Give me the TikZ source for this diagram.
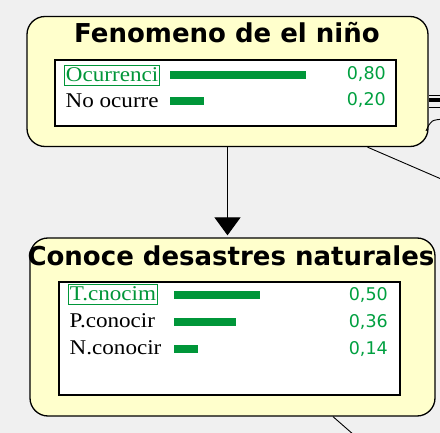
\documentclass[tikz,border=0pt]{standalone}
\usepackage{fontspec}
\usepackage{tikz}
\usetikzlibrary{arrows.meta, positioning, calc}
\newfontfamily\titlefont{DejaVu Sans}
\newfontfamily\statefont{Liberation Serif}[FakeStretch=1.1]
\newfontfamily\valfont{DejaVu Sans}
\definecolor{bggray}{RGB}{240,240,240}
\definecolor{nodeyel}{RGB}{255,255,204}
\definecolor{bargreen}{RGB}{0,150,57}
\definecolor{valgreen}{RGB}{0,160,64}
\tikzset{
  netbox/.style={draw=black, fill=nodeyel, rounded corners=18pt,
                 line width=1.3pt, inner sep=0pt},
  statebox/.style={draw=black, fill=white, line width=1.3pt, inner sep=0pt},
  titletext/.style={inner sep=0pt, anchor=base,
                    font=\titlefont\bfseries\fontsize{26}{28}\selectfont},
  statetext/.style={inner xsep=1.5pt, inner ysep=3pt, anchor=base west,
                    font=\statefont\fontsize{21}{23}\selectfont},
  selstate/.style={statetext, text=bargreen, draw=bargreen, line width=0.9pt},
  valtext/.style={inner sep=0pt, anchor=base east, text=valgreen,
                  font=\valfont\fontsize{17.5}{19}\selectfont},
  bar/.style={fill=bargreen},
  link/.style={draw=black, line width=1.3pt},
  arc/.style={draw=black, line width=0.9pt},
}
\begin{document}
\begin{tikzpicture}[x=1pt, y=-1pt]
    \useasboundingbox (0,0) rectangle (440,433);
    \fill[bggray] (0,0) rectangle (440,433);
    \clip (0,0) rectangle (440,433);
    %% Outer boxes
    \node[netbox, minimum width=401pt, minimum height=130pt] (nino) at (227.5,81.5) {};
    \node[netbox, minimum width=405pt, minimum height=178pt] (conoce) at (232.5,327) {};
    %% Titles
    \node[titletext] (nino-t) at (227,43) {Fenomeno de el niño};
    \node[titletext] (conoce-t) at (231,266) {Conoce desastres naturales};
    %% State panels
    \node[statebox, minimum width=341pt, minimum height=66pt] (nino-s) at (225.5,93) {};
    \node[statebox, minimum width=341pt, minimum height=113pt] (conoce-s) at (229.5,338.5) {};
    %% Rows of Fenomeno de el niño
    \node[selstate] (nino-l1) at (64,82) {Ocurrenci};
    \node[statetext] (nino-l2) at (64,108) {No ocurre};
    \foreach \i/\yb/\w/\val in {1/82/136/{0,80}, 2/108/34/{0,20}}{
      \fill[bar] (170,\yb-11) rectangle ++(\w,8);
      \node[valtext] (nino-v\i) at (386,\yb-2) {\val};
    }
    %% Rows of Conoce desastres naturales
    \node[selstate] (conoce-l1) at (68,301) {T.cnocim};
    \foreach \i/\yb/\lbl in {2/328/P.conocir, 3/355/N.conocir}{
      \node[statetext] (conoce-l\i) at (68,\yb) {\lbl};
    }
    \foreach \i/\yb/\w/\val in {1/301/86/{0,50}, 2/328/62/{0,36}, 3/355/24/{0,14}}{
      \fill[bar] (174,\yb-10) rectangle ++(\w,8);
      \node[valtext] (conoce-v\i) at (388,\yb) {\val};
    }
    %% Arc between the two nodes
    \draw[link, -{Triangle[length=18pt,width=26pt]}, shorten >=2pt]
      (nino.south) -- (nino.south |- conoce.north);
    %% Arcs that leave the picture
    \coordinate (out1) at (462,188);
    \coordinate (out2) at (362,442);
    \coordinate (r1) at (445,95);
    \coordinate (r2) at (445,100.5);
    \coordinate (r3) at (445,107);
    \coordinate (r4) at (445,119);
    \draw[arc] ([xshift=140pt]nino.south) -- (out1);
    \draw[arc] ([xshift=100.5pt]conoce.south) -- (out2);
    \draw[arc] (r1) -- (r1 -| nino.east);
    \draw[link, line width=4pt] (r2) -- (r2 -| nino.east);
    \draw[arc] (r3) -- (r3 -| nino.east);
    \draw[arc] (r4) .. controls (431,120) .. (426,131);
  \end{tikzpicture}
\end{document}
